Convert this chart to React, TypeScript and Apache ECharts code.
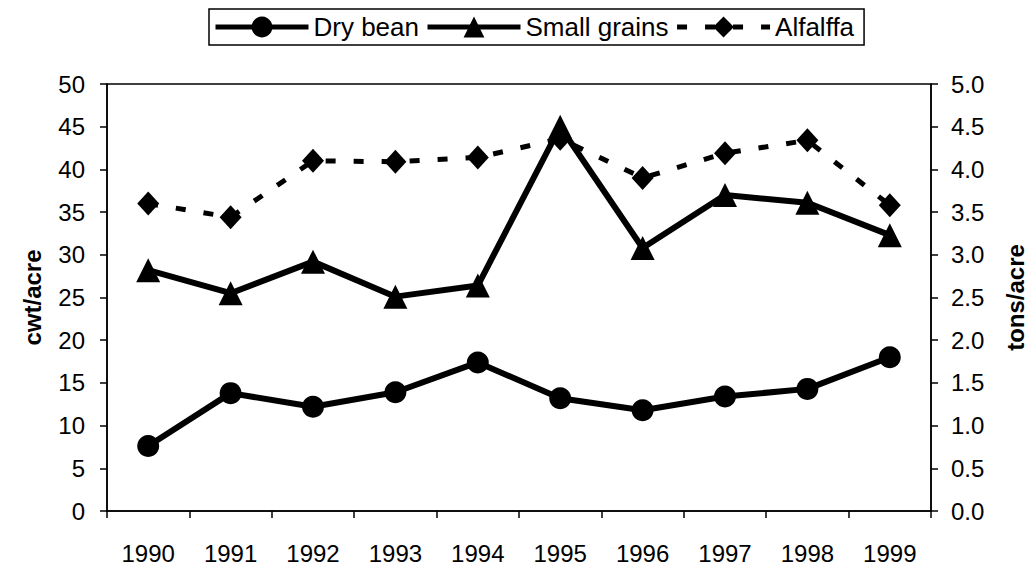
import React, { useEffect, useRef } from "react";
import * as echarts from "echarts";

const years = ["1990", "1991", "1992", "1993", "1994", "1995", "1996", "1997", "1998", "1999"];
const dryBean = [7.6, 13.8, 12.2, 13.9, 17.4, 13.2, 11.8, 13.4, 14.3, 18.0];
const smallGrains = [28.2, 25.5, 29.2, 25.1, 26.4, 45.0, 30.8, 37.0, 36.1, 32.3];
const alfalfa = [3.6, 3.44, 4.1, 4.09, 4.14, 4.36, 3.9, 4.19, 4.34, 3.58];
const leftTicks = { min: 0, max: 50, interval: 5 };
const rightTicks = { min: 0, max: 5, interval: 0.5 };

const FONT = "Liberation Sans, Arial, sans-serif";

export default function App() {
  const ref = useRef<HTMLDivElement>(null);
  useEffect(() => {
    document.body.style.margin = "0";
    const chart = echarts.init(ref.current!, null, { renderer: "svg" });
    const axisCommon = {
      axisLine: { show: true, lineStyle: { color: "#000", width: 1.5 } },
      axisTick: { show: true, length: 7, lineStyle: { color: "#000", width: 1.5 } },
      splitLine: { show: false },
      axisLabel: { color: "#000", fontSize: 24, fontFamily: FONT },
    };
    const nameStyle = { fontSize: 24, fontWeight: "bold", color: "#000", fontFamily: FONT };
    chart.setOption({
      animation: false,
      backgroundColor: "#fff",
      textStyle: { fontFamily: FONT, color: "#000" },
      grid: {
        left: 107,
        right: 93,
        top: 84,
        bottom: 56,
        show: true,
        borderColor: "#000",
        borderWidth: 1.5,
      },
      legend: {
        left: 209,
        top: 9,
        padding: [5, 10, 5, 4],
        borderColor: "#000",
        borderWidth: 1.5,
        itemWidth: 93,
        itemHeight: 26,
        itemGap: 6,
        lineStyle: { width: 5 },
        textStyle: { fontSize: 26, color: "#000", fontFamily: FONT },
        data: ["Dry bean", "Small grains", "Alfalffa"],
      },
      xAxis: {
        type: "category",
        data: years,
        boundaryGap: true,
        ...axisCommon,
        axisLabel: { ...axisCommon.axisLabel, margin: 30 },
      },
      yAxis: [
        {
          type: "value",
          ...leftTicks,
          position: "left",
          name: "cwt/acre",
          nameLocation: "middle",
          nameGap: 63,
          nameRotate: 90,
          nameTextStyle: nameStyle,
          ...axisCommon,
          axisLabel: { ...axisCommon.axisLabel, margin: 22 },
        },
        {
          type: "value",
          ...rightTicks,
          position: "right",
          name: "tons/acre",
          nameLocation: "middle",
          nameGap: 72,
          nameRotate: 90,
          nameTextStyle: nameStyle,
          ...axisCommon,
          axisLabel: {
            ...axisCommon.axisLabel,
            margin: 20,
            formatter: (v: number) => v.toFixed(1),
          },
        },
      ],
      series: [
        {
          name: "Dry bean",
          type: "line",
          yAxisIndex: 0,
          data: dryBean,
          symbol: "circle",
          symbolSize: 22,
          itemStyle: { color: "#000" },
          lineStyle: { color: "#000", width: 6 },
        },
        {
          name: "Small grains",
          type: "line",
          yAxisIndex: 0,
          data: smallGrains,
          symbol: "triangle",
          symbolSize: 24,
          itemStyle: { color: "#000" },
          lineStyle: { color: "#000", width: 6 },
        },
        {
          name: "Alfalffa",
          type: "line",
          yAxisIndex: 1,
          data: alfalfa,
          symbol: "diamond",
          symbolSize: [22, 24],
          itemStyle: { color: "#000" },
          lineStyle: { color: "#000", width: 5, type: [10, 18] },
        },
      ],
    });
    return () => chart.dispose();
  }, []);
  return <div ref={ref} style={{ width: 1035, height: 567 }} />;
}
